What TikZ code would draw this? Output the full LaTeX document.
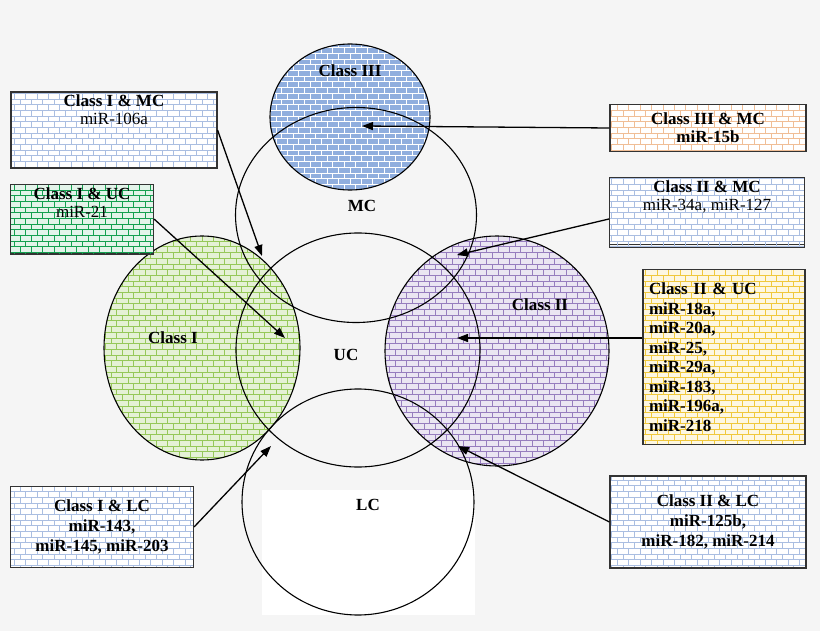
\documentclass[tikz,border=0pt]{standalone}
\usepackage{fontspec}
\setmainfont{Liberation Serif}
\usetikzlibrary{positioning}
\usetikzlibrary{arrows.meta}
\usetikzlibrary{shapes.geometric}
\usetikzlibrary{patterns}

\definecolor{bgray}{RGB}{245,245,245}
\definecolor{cIfill}{RGB}{150,200,90}
\definecolor{cIIfill}{RGB}{150,125,190}
\definecolor{cIIIfill}{RGB}{70,120,200}
\definecolor{boxblue}{RGB}{170,190,225}
\definecolor{boxgreen}{RGB}{20,160,80}
\definecolor{boxorange}{RGB}{240,190,150}
\definecolor{boxyellow}{RGB}{240,200,60}

\tikzset{
  set/.style={ellipse, draw, line width=1.1pt, inner sep=0pt},
  setlabel/.style={font=\fontsize{17}{19}\selectfont\bfseries},
  infobox/.style={draw=black!80, line width=1.1pt, align=center,
    font=\fontsize{17}{18}\selectfont, inner sep=3pt},
  pointer/.style={-{Triangle[length=11pt,width=8pt]}, line width=1.3pt}
}

\begin{document}
\begin{tikzpicture}[x=1pt,y=-1pt]
        \fill[bgray] (0,0) rectangle (820,631);
        \useasboundingbox (0,0) rectangle (820,631);
        \fill[white] (262,490) rectangle (475,615);

        % coloured sets
        \node[set, draw=none, fill=cIfill!25, minimum width=196pt, minimum height=224pt] (cIbg) at (202,348) {};
        \node[set, draw=none, pattern=bricks, pattern color=cIfill, minimum width=196pt, minimum height=224pt] at (202,348) {};
        \node[set, draw=none, fill=cIIfill!20, minimum width=224pt, minimum height=230pt] at (497,351) {};
        \node[set, draw=none, pattern=bricks, pattern color=cIIfill, minimum width=224pt, minimum height=230pt] at (497,351) {};
        \node[set, draw=none, fill=cIIIfill!60, minimum width=160pt, minimum height=146pt] at (350,117) {};
        \node[set, draw=none, pattern=bricks, pattern color=white, minimum width=160pt, minimum height=146pt] at (350,117) {};

        % outlines
        \node[set, minimum width=196pt, minimum height=224pt] (classI) at (202,348) {};
        \node[set, minimum width=224pt, minimum height=230pt] (classII) at (497,351) {};
        \node[set, minimum width=160pt, minimum height=146pt] (classIII) at (350,117) {};
        \node[set, minimum width=241pt, minimum height=215pt] (MC) at (356,215) {};
        \node[set, minimum width=244pt, minimum height=234pt] (UC) at (358,350) {};
        \node[set, minimum width=232pt, minimum height=226pt] (LC) at (358,502) {};

        \node[setlabel] at (350,71) {Class III};
        \node[setlabel] at (362,206) {MC};
        \node[setlabel] at (346,355) {UC};
        \node[setlabel] at (173,338) {Class I};
        \node[setlabel] at (540,305) {Class II};
        \node[setlabel] at (368,505) {LC};

        % boxes
        \node[infobox, fill=white, minimum width=206pt, minimum height=76pt] (imc) at (114,130) {};
        \node[infobox, pattern=bricks, pattern color=boxblue, minimum width=206pt, minimum height=76pt, anchor=north] at (imc.north) {\textbf{Class I \& MC}\\miR-106a\\[22pt]};
        \node[infobox, fill=boxgreen!12, minimum width=143pt, minimum height=69pt] (iuc) at (82,219) {};
        \node[infobox, pattern=bricks, pattern color=boxgreen, minimum width=143pt, minimum height=69pt, anchor=north] at (iuc.north) {\textbf{Class I \& UC}\\miR-21\\[16pt]};
        \node[infobox, fill=white, minimum width=196pt, minimum height=47pt] (iiimc) at (708,128) {};
        \node[infobox, pattern=bricks, pattern color=boxorange, minimum width=196pt, minimum height=47pt, font=\fontsize{17}{18}\selectfont\bfseries] at (iiimc) {Class III \& MC\\miR-15b};
        \node[infobox, fill=white, minimum width=195pt, minimum height=67pt] (iimc) at (707,211) {};
        \node[infobox, pattern=bricks, pattern color=boxblue, minimum width=195pt, minimum height=67pt, anchor=north] at (iimc.north) {\textbf{Class II \& MC}\\miR-34a, miR-127\\[16pt]};
        \node[infobox, fill=boxyellow!15, minimum width=162pt, minimum height=175pt] (iiuc) at (724,357) {};
        \node[infobox, pattern=bricks, pattern color=boxyellow, text width=150pt, inner sep=6pt, align=left, minimum height=175pt, anchor=north, font=\fontsize{17}{19.5}\selectfont\bfseries] at (iiuc.north) {Class II \& UC\\miR-18a,\\miR-20a,\\miR-25,\\miR-29a,\\miR-183,\\miR-196a,\\miR-218};
        \node[infobox, fill=white, minimum width=183pt, minimum height=81pt] (ilc) at (102,527) {};
        \node[infobox, pattern=bricks, pattern color=boxblue, minimum width=183pt, minimum height=81pt, font=\fontsize{17}{20}\selectfont\bfseries] at (ilc) {Class I \& LC\\miR-143,\\miR-145, miR-203};
        \node[infobox, fill=white, minimum width=196pt, minimum height=92pt] (iilc) at (708,522) {};
        \node[infobox, pattern=bricks, pattern color=boxblue, minimum width=196pt, minimum height=92pt, font=\fontsize{17}{20}\selectfont\bfseries] at (iilc) {Class II \& LC\\miR-125b,\\miR-182, miR-214};

        % pointers
        \coordinate (pImc) at (262,256);
        \coordinate (pIuc) at (285,338);
        \coordinate (pIIImc) at (362,126);
        \coordinate (pIImc) at (457,255);
        \coordinate (pIIuc) at (457,338);
        \coordinate (pIlc) at (271,446);
        \coordinate (pIIlc) at (458,446);
        \draw[pointer] (imc.east) -- (pImc);
        \draw[pointer] (iuc.east) -- (pIuc);
        \draw[pointer] (iiimc.west) -- (pIIImc);
        \draw[pointer] ([yshift=-8pt]iimc.west) -- (pIImc);
        \draw[pointer] (iiuc.west |- pIIuc) -- (pIIuc);
        \draw[pointer] (ilc.east) -- (pIlc);
        \draw[pointer] (iilc.west) -- (pIIlc);
\end{tikzpicture}
\end{document}
